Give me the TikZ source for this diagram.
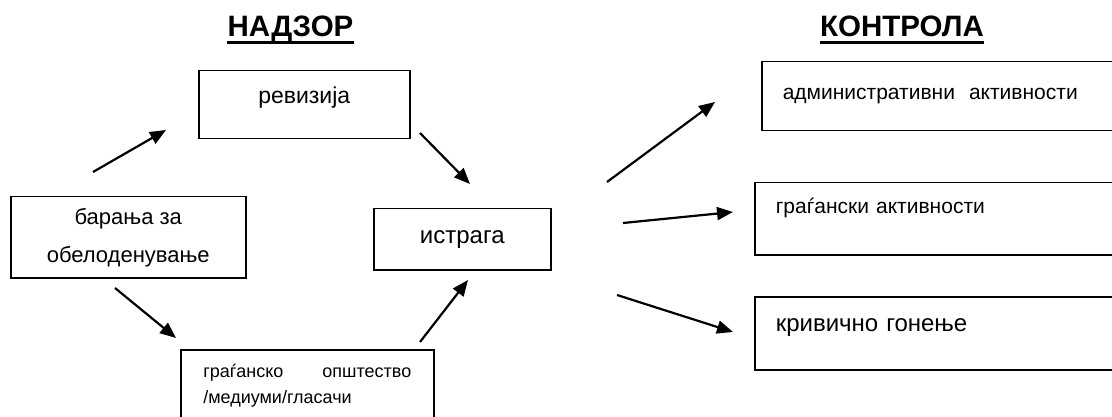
\documentclass[tikz,border=0pt]{standalone}
\usepackage{fontspec}
\setmainfont{Liberation Sans}
\usetikzlibrary{arrows.meta}

\begin{document}
\begin{tikzpicture}[x=1pt, y=-1pt,
    box/.style={draw, line width=1.5pt, inner sep=0pt, anchor=north west},
    arr/.style={line width=2.2pt, -{Triangle[length=16pt, width=13pt]}},
    heading/.style={font=\fontsize{29.5}{30}\selectfont\bfseries, inner sep=0pt, anchor=base},
    underbar/.style={line width=2.6pt}]
    \clip (0,0) rectangle (1112,417);

    % Headings, underlined
    \node [heading] (nadzor) at (290.5,37) {НАДЗОР};
    \node [heading] (kontrola) at (902,37) {КОНТРОЛА};
    \draw [underbar] ([yshift=-5.5pt]nadzor.base west) -- ([yshift=-5.5pt]nadzor.base east);
    \draw [underbar] ([yshift=-5.5pt]kontrola.base west) -- ([yshift=-5.5pt]kontrola.base east);

    % Oversight cycle
    \node [box, minimum width=211pt, minimum height=68pt, text height=16pt, text depth=18pt,
        font=\fontsize{23}{28}\selectfont] (revizija) at (198,70) {ревизија};
    \node [box, minimum width=235pt, minimum height=81pt, align=center,
        font=\fontsize{22}{38}\selectfont] (baranja) at (10,196) {барања за\\обелоденување};
    \node [box, minimum width=177pt, minimum height=61pt,
        font=\fontsize{24}{28}\selectfont] (istraga) at (373,208) {истрага};
    \node [box, minimum width=253pt, minimum height=72pt, text width=208pt, align=left,
        font=\fontsize{18}{26}\selectfont] (gragjansko) at (180,349) {граѓанско\hfill општество\\/медиуми/гласачи};

    % Control boxes (run past the right edge)
    \node [box, minimum height=69pt, inner xsep=21pt, text width=332pt, align=left,
        font=\fontsize{21}{26}\selectfont] (admin) at (761,61) {административни\ \ активности};
    \node [box, minimum height=72pt, inner xsep=21pt, text width=339pt, align=left,
        text height=10pt, text depth=20pt,
        font=\fontsize{21}{26}\selectfont] (civil) at (754,182) {граѓански активности};
    \node [box, minimum height=73pt, inner xsep=21pt, text width=339pt, align=left,
        text height=12pt, text depth=15pt,
        font=\fontsize{24}{28}\selectfont] (krivicno) at (754,296) {кривично гонење};

    % Free arrow ends
    \coordinate (bar-up) at (93,172);
    \coordinate (rev-in) at (166,130);
    \coordinate (rev-out) at (420,133);
    \coordinate (ist-in1) at (470,184);
    \coordinate (bar-down) at (115,288);
    \coordinate (gra-in) at (176,338);
    \coordinate (gra-out) at (420,342);
    \coordinate (ist-in2) at (468,280);
    \coordinate (ist-out1) at (607,182);
    \coordinate (adm-in) at (715,102);
    \coordinate (ist-out2) at (623,223);
    \coordinate (civ-in) at (733,212);
    \coordinate (ist-out3) at (617,295);
    \coordinate (kri-in) at (733,332);

    \draw [arr] (bar-up) -- (rev-in);
    \draw [arr] (rev-out) -- (ist-in1);
    \draw [arr] (bar-down) -- (gra-in);
    \draw [arr] (gra-out) -- (ist-in2);
    \draw [arr] (ist-out1) -- (adm-in);
    \draw [arr] (ist-out2) -- (civ-in);
    \draw [arr] (ist-out3) -- (kri-in);
\end{tikzpicture}
\end{document}
